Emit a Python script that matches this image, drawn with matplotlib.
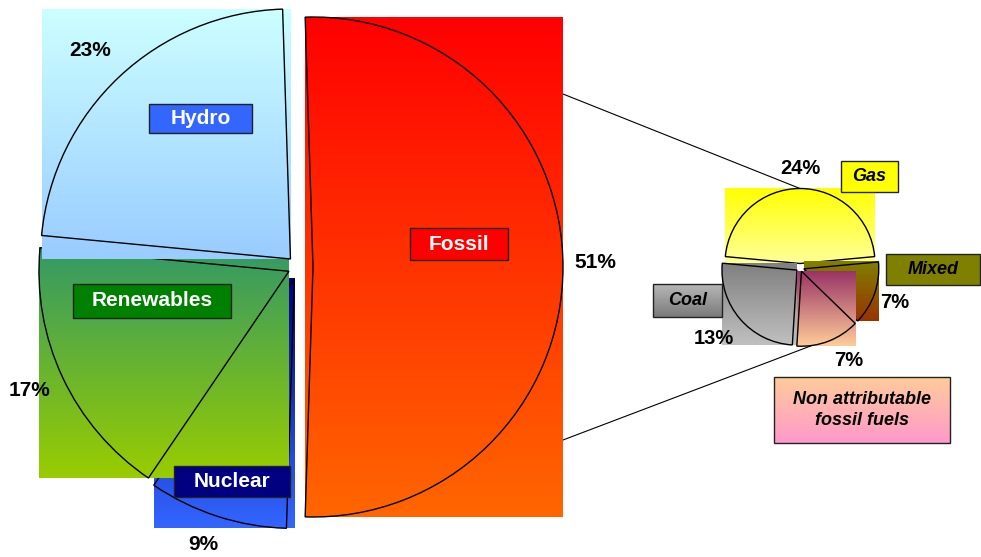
import matplotlib.pyplot as plt
import numpy as np
from matplotlib.colors import to_rgb
from matplotlib.patches import Rectangle

plt.rcParams['font.family'] = ['Liberation Sans', 'DejaVu Sans']

W, H = 981, 557

# Share of total production (%)
main_names = ['Fossil', 'Hydro', 'Renewables', 'Nuclear']
main_values = [51, 23, 17, 9]
main_top = ['#FF0000', '#CCFFFF', '#339966', '#000080']
main_bottom = ['#FF6600', '#99CCFF', '#99CC00', '#3366FF']
main_box = ['#FF0000', '#3366FF', '#008000', '#000080']

# Split of the fossil share (%)
fossil_names = ['Gas', 'Coal', 'Non attributable\nfossil fuels', 'Mixed']
fossil_values = [24, 13, 7, 7]
fossil_top = ['#FFFF00', '#808080', '#993366', '#808000']
fossil_bottom = ['#FFFF99', '#C0C0C0', '#FFCC99', '#993300']

fig = plt.figure(figsize=(W / 100, H / 100), dpi=100)
ax = fig.add_axes([0, 0, 1, 1])


def down(y):
    # layout positions below are measured from the top edge
    return H - y


def gradient(x0, y0, x1, y1, c_top, c_bottom, z):
    t = np.linspace(0, 1, 200)[:, None, None]
    img = (1 - t) * np.array(to_rgb(c_top)) + t * np.array(to_rgb(c_bottom))
    ax.imshow(img, extent=(x0, x1, y0, y1), origin='upper', aspect='auto',
              interpolation='bilinear', zorder=z)


def pie_with_fills(values, center, radius, explode, start, tops, bottoms, layer):
    wedges, _ = ax.pie(values, radius=radius, center=center, startangle=start,
                       explode=explode, frame=True,
                       wedgeprops=dict(facecolor='none', edgecolor='black', linewidth=1.0))
    # each slice gets a vertical gradient over its bounding box
    for w, c1, c2, z in zip(wedges, tops, bottoms, layer):
        bb = w.get_path().get_extents()
        gradient(bb.x0, bb.y0, bb.x1, bb.y1, c1, c2, z)
        w.set_zorder(z + 0.5)
    return wedges


def tag(box, text, fc=None, grad=None, color='white', style='normal', size=15):
    x0, y0, x1, y1 = box
    if grad is not None:
        gradient(x0, down(y1), x1, down(y0), grad[0], grad[1], 9)
    ax.add_patch(Rectangle((x0, down(y1)), x1 - x0, y1 - y0,
                           facecolor=fc if fc else 'none', edgecolor='#222222',
                           lw=1.0, zorder=9.5))
    ax.text((x0 + x1) / 2, down((y0 + y1) / 2), text, ha='center', va='center',
            color=color, fontweight='bold', fontstyle=style, fontsize=size,
            zorder=10, linespacing=1.25)


# main pie, fossil slice centred on the right
main_center = (298, down(267))
main_start = -main_values[0] / sum(main_values) * 180
main_wedges = pie_with_fills(main_values, main_center, 250, [15, 11, 10, 12],
                             main_start, main_top, main_bottom, [1, 4, 3, 2])

# secondary pie, gas slice centred on top
sub_center = (800, down(267.5))
sub_start = 90 - fossil_values[0] / sum(fossil_values) * 180
sub_wedges = pie_with_fills(fossil_values, sub_center, 75, [4, 4, 4, 4],
                            sub_start, fossil_top, fossil_bottom, [1, 2, 4, 3])

# connector lines between the fossil slice and the breakdown
fb = main_wedges[0].get_path().get_extents()
gas, na = sub_wedges[0], sub_wedges[2]
a = np.deg2rad(278)
ax.plot([fb.x1, gas.center[0]], [main_center[1] + 173, gas.center[1] + gas.r],
        color='black', lw=0.8, zorder=0.5)
ax.plot([fb.x1, na.center[0] + na.r * np.cos(a)],
        [main_center[1] - 173, na.center[1] + na.r * np.sin(a)],
        color='black', lw=0.8, zorder=0.5)

# category boxes
main_boxes = [(410, 228, 508, 260), (149, 104, 252, 133),
              (73, 284, 231, 318), (174, 466, 290, 497)]
for name, box, fc in zip(main_names, main_boxes, main_box):
    tag(box, name, fc=fc)

tag((841, 161, 898, 192), fossil_names[0], fc='#FFFF00', color='black', style='italic', size=13)
tag((653, 284, 722, 317), fossil_names[1], grad=('#B8B8B8', '#7A7A7A'),
    color='black', style='italic', size=13)
tag((774, 377, 950, 443), fossil_names[2], grad=('#FFCC99', '#FF99CC'),
    color='black', style='italic', size=13)
tag((886, 254, 980, 285), fossil_names[3], fc='#808000', color='black', style='italic', size=13)

# percentage labels
main_pct_pos = [(595, 262), (90, 50), (30, 390), (203, 545)]
for v, (x, y) in zip(main_values, main_pct_pos):
    ax.text(x, down(y), f'{v}%', ha='center', va='center', fontsize=15,
            fontweight='bold', zorder=10)

sub_pct_pos = [(800, 169), (714, 338), (849, 360), (895, 302)]
for v, (x, y) in zip(fossil_values, sub_pct_pos):
    ax.text(x, down(y), f'{v}%', ha='center', va='center', fontsize=14.5,
            fontweight='bold', zorder=10)

ax.set_xlim(0, W)
ax.set_ylim(0, H)
ax.axis('off')

fig.savefig('out.png', dpi=100)
